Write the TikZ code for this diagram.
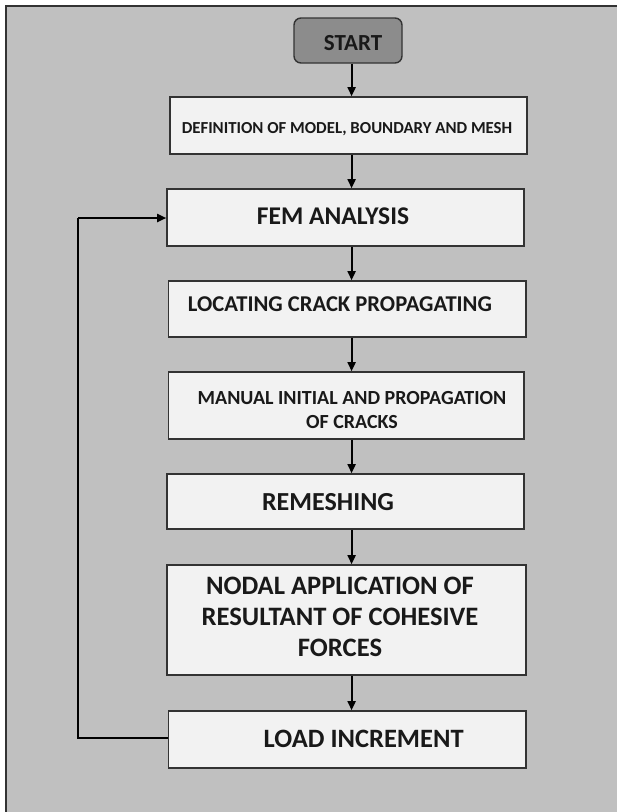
\documentclass[tikz,border=0pt]{standalone}
\usepackage{fontspec}
\setmainfont{Carlito}
\usetikzlibrary{arrows.meta,calc}
\definecolor{bggray}{HTML}{C0C0C0}
\definecolor{boxfill}{HTML}{F2F2F2}
\definecolor{startfill}{HTML}{8C8C8C}
\definecolor{edge}{HTML}{333333}
\tikzset{
  box/.style={draw=edge, line width=1.6pt, fill=boxfill, inner sep=0pt, minimum width=#1},
  lbl/.style={font=\bfseries, inner sep=0pt, align=center, text=black!90},
  arr/.style={draw=black, line width=1.8pt, -{Triangle[length=9pt,width=8pt]}},
  loopline/.style={draw=black, line width=2pt},
}
\begin{document}
\begin{tikzpicture}[x=1pt,y=-1pt]
\useasboundingbox (0,0) rectangle (617,812);
\fill[white] (0,0) rectangle (617,812);
\draw[draw=edge, line width=1.6pt, fill=bggray] (6,6) rectangle (630,830);

\coordinate (ax) at (351.6,0);

% boxes
\node[draw=edge, line width=1.4pt, fill=startfill, rounded corners=7pt, minimum width=108pt, minimum height=45pt, inner sep=0pt] (start) at (348,40.5) {};
\node[box=357pt, minimum height=57pt] (def) at (348.5,125.5) {};
\node[box=357pt, minimum height=57pt] (fem) at (345.5,217.5) {};
\node[box=357.5pt, minimum height=56pt] (loc) at (347.25,309) {};
\node[box=355.5pt, minimum height=67pt] (man) at (346.25,405.5) {};
\node[box=357pt, minimum height=55pt] (rem) at (345.5,501.5) {};
\node[box=359pt, minimum height=110pt] (nod) at (346.5,620) {};
\node[box=357.5pt, minimum height=57pt] (load) at (347.25,739.5) {};

% texts
\node[lbl, font=\fontsize{23}{27}\selectfont\bfseries] (tstart) at (353,43) {START};
\node[lbl, font=\fontsize{16.8}{20}\selectfont\bfseries] (tdef) at (347,129) {DEFINITION OF MODEL, BOUNDARY AND MESH};
\node[lbl, font=\fontsize{25.5}{30}\selectfont\bfseries] (tfem) at (333,216) {FEM ANALYSIS};
\node[lbl, font=\fontsize{22.6}{26}\selectfont\bfseries] (tloc) at (340,304) {LOCATING CRACK PROPAGATING};
\node[lbl, font=\fontsize{20}{24}\selectfont\bfseries] (tman) at (352,410) {MANUAL INITIAL AND PROPAGATION\\OF CRACKS};
\node[lbl, font=\fontsize{26}{30}\selectfont\bfseries] (trem) at (328,502) {REMESHING};
\node[lbl, font=\fontsize{26.6}{31}\selectfont\bfseries] (tnod) at (340,617) {NODAL APPLICATION OF\\RESULTANT OF COHESIVE\\FORCES};
\node[lbl, font=\fontsize{26.5}{30}\selectfont\bfseries] (tload) at (363.6,739) {LOAD INCREMENT};

% arrows
\draw[arr] (start.south -| ax) -- (def.north -| ax);
\draw[arr] (def.south -| ax) -- (fem.north -| ax);
\draw[arr] (fem.south -| ax) -- (loc.north -| ax);
\draw[arr] (loc.south -| ax) -- (man.north -| ax);
\draw[arr] (man.south -| ax) -- (rem.north -| ax);
\draw[arr] (rem.south -| ax) -- (nod.north -| ax);
\draw[arr] (nod.south -| ax) -- (load.north -| ax);

% loop
\coordinate (lb) at (78,738);
\coordinate (lt) at (78,218);
\draw[loopline] (load.west |- lb) -- (lb) -- (lt);
\draw[arr] (lt) -- (fem.west |- lt);
\end{tikzpicture}
\end{document}
